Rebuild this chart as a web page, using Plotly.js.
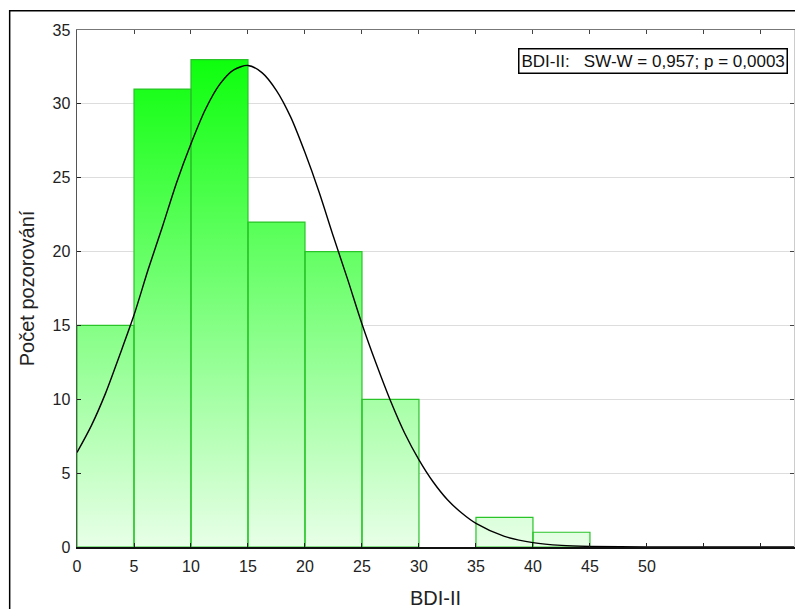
<!DOCTYPE html>
<html>
<head>
<meta charset="utf-8">
<script src="https://cdn.plot.ly/plotly-3.0.1.min.js"></script>
<style>html,body{margin:0;padding:0;background:#fff;}#chart{width:795px;height:609px;}</style>
</head>
<body>
<div id="chart"></div>
<script>
// Histogram bins (BDI-II score) and counts
const binStart = [0, 5, 10, 15, 20, 25, 30, 35, 40];
const binEnd   = [5, 10, 15, 20, 25, 30, 35, 40, 45];
const counts   = [15, 31, 33, 22, 20, 10, 0, 2, 1];

// Fitted normal curve
const curveX = [0, 1.25, 2.5, 3.75, 5, 6.25, 7.5, 8.75, 10, 11.25, 12.5, 13.75, 15, 16.25, 17.5, 18.75, 20, 21.25, 22.5, 23.75, 25, 26.25, 27.5, 28.75, 30, 31.25, 32.5, 33.75, 35, 37.5, 40, 42.5, 45, 50, 55, 60, 63];
const curveY = [6.4, 8.2, 10.4, 13.0, 15.7, 18.8, 21.7, 24.7, 27.3, 29.6, 31.3, 32.3, 32.6, 32.1, 30.9, 29.1, 26.7, 24.0, 21.0, 18.1, 15.1, 12.4, 9.9, 7.7, 5.9, 4.4, 3.2, 2.3, 1.6, 0.72, 0.3, 0.11, 0.04, 0.0, 0, 0, 0];

const xTickVals = [0, 5, 10, 15, 20, 25, 30, 35, 40, 45, 50, 55, 60];
const xTickText = ['0', '5', '10', '15', '20', '25', '30', '35', '40', '45', '50', '', ''];
const yTickVals = [0, 5, 10, 15, 20, 25, 30, 35];

const statText = 'BDI-II:\u00a0\u00a0\u00a0SW-W = 0,957; p = 0,0003';

// build bar outlines from the bins
const bx = [], by = [];
for (let i = 0; i < counts.length; i++) {
  if (counts[i] <= 0) continue;
  bx.push(binStart[i], binStart[i], binEnd[i], binEnd[i], binStart[i], null);
  by.push(0, counts[i], counts[i], 0, 0, null);
}

const font = 'Liberation Sans, Arial, sans-serif';

const bars = {
  x: bx, y: by, type: 'scatter', mode: 'lines',
  fill: 'toself',
  fillcolor: '#80ff80',
  fillgradient: {
    type: 'vertical', start: 0, stop: 35,
    colorscale: [[0, '#e8ffe8'], [1, '#00ff00']]
  },
  line: {color: '#28c428', width: 1.2},
  hoverinfo: 'skip', showlegend: false
};

const curve = {
  x: curveX, y: curveY, type: 'scatter', mode: 'lines',
  line: {color: '#000', width: 1.4, shape: 'spline', smoothing: 0.8},
  hoverinfo: 'skip', showlegend: false
};

const xr = [0, 62.9], yr = [0, 35];

const layout = {
  width: 795, height: 609,
  margin: {l: 77, r: 1, t: 30, b: 62},
  paper_bgcolor: '#fff', plot_bgcolor: '#fff',
  font: {family: font, size: 16, color: '#222'},
  showlegend: false,
  xaxis: {
    range: xr, tickvals: xTickVals, ticktext: xTickText,
    ticks: 'inside', ticklen: 4, tickcolor: '#222', tickwidth: 1,
    showline: true, linecolor: '#111', linewidth: 1.5,
    showgrid: false, zeroline: false,
    ticklabelstandoff: 4,
    tickfont: {size: 16, color: '#222'},
    title: {text: 'BDI-II', font: {size: 20, color: '#222'}, standoff: 20}
  },
  xaxis2: {
    overlaying: 'x', side: 'top', range: xr, tickvals: xTickVals,
    showticklabels: false, ticks: 'inside', ticklen: 4, tickcolor: '#444',
    showline: true, linecolor: '#777', linewidth: 1,
    showgrid: false, zeroline: false
  },
  yaxis: {
    range: yr, tickvals: yTickVals,
    ticks: 'inside', ticklen: 4, tickcolor: '#222',
    showline: true, linecolor: '#555', linewidth: 1.5,
    showgrid: true, gridcolor: '#dddddd', gridwidth: 1,
    zeroline: false,
    ticklabelstandoff: 2,
    tickfont: {size: 16, color: '#222'},
    title: {text: 'Počet pozorování', font: {size: 20, color: '#222'}, standoff: 12}
  },
  yaxis2: {
    overlaying: 'y', side: 'right', range: yr, tickvals: yTickVals,
    showticklabels: false, ticks: 'inside', ticklen: 4, tickcolor: '#444',
    showline: true, linecolor: '#cccccc', linewidth: 1,
    showgrid: false, zeroline: false
  },
  annotations: [{
    xref: 'paper', yref: 'paper', x: 0.9916, y: 0.965,
    xanchor: 'right', yanchor: 'top',
    text: statText, showarrow: false,
    font: {size: 17, color: '#111', family: font},
    bgcolor: '#fff', bordercolor: '#000', borderwidth: 1.5, borderpad: 2
  }],
  shapes: [{
    type: 'rect', xref: 'paper', yref: 'paper',
    x0: -0.0939, x1: 1.2, y0: -0.3, y1: 1.0373,
    line: {color: '#000', width: 1.5}, fillcolor: 'rgba(0,0,0,0)', layer: 'above'
  }]
};

const ghost = {x: [null], y: [null], xaxis: 'x2', yaxis: 'y2', type: 'scatter', mode: 'lines', hoverinfo: 'skip', showlegend: false};

Plotly.newPlot('chart', [bars, curve, ghost], layout, {staticPlot: true, displayModeBar: false});
</script>
</body>
</html>
